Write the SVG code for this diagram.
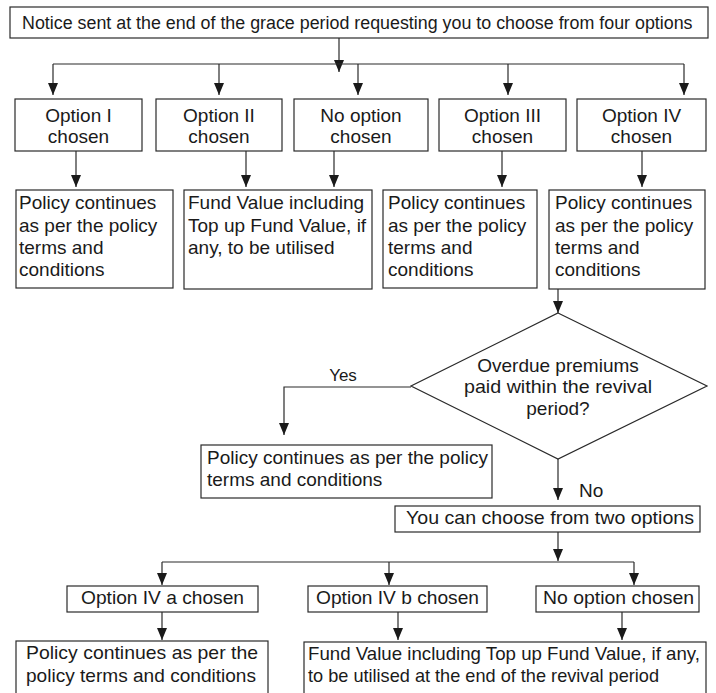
<svg xmlns="http://www.w3.org/2000/svg" width="716" height="693" viewBox="0 0 716 693">
<defs>
<style>
.box{fill:#fff;stroke:#2a2a2a;stroke-width:1.2}
.ln{fill:none;stroke:#2a2a2a;stroke-width:1.2}
.ar{fill:none;stroke:#2a2a2a;stroke-width:1.2;marker-end:url(#ah)}
text{font-family:"Liberation Sans",Arial,Helvetica,sans-serif;font-size:19px;fill:#1a1a1a}
.c{text-anchor:middle}
</style>
<marker id="ah" viewBox="0 0 12 10" refX="12" refY="5" markerWidth="12" markerHeight="10" markerUnits="userSpaceOnUse" orient="auto">
<path d="M0,0 L12,5 L0,10 z" fill="#1a1a1a"/>
</marker>
</defs>
<rect width="716" height="693" fill="#fff"/>

<g id="connectors">
<line class="ar" x1="339" y1="38" x2="339" y2="72"/>
<line class="ln" x1="53" y1="64" x2="684" y2="64"/>
<line class="ar" x1="53" y1="64" x2="53" y2="95"/>
<line class="ar" x1="219" y1="64" x2="219" y2="95"/>
<line class="ar" x1="358" y1="64" x2="358" y2="95"/>
<line class="ar" x1="508" y1="64" x2="508" y2="95"/>
<line class="ar" x1="684" y1="64" x2="684" y2="95"/>
<line class="ar" x1="76" y1="151" x2="76" y2="187"/>
<line class="ar" x1="246" y1="151" x2="246" y2="187"/>
<line class="ar" x1="334" y1="151" x2="334" y2="187"/>
<line class="ar" x1="502" y1="151" x2="502" y2="187"/>
<line class="ar" x1="642" y1="151" x2="642" y2="187"/>
<line class="ar" x1="558" y1="289" x2="558" y2="313"/>
<polyline class="ar" points="411,387 284,387 284,435"/>
<line class="ar" x1="558" y1="459" x2="558" y2="500"/>
<line class="ar" x1="558" y1="532" x2="558" y2="561"/>
<line class="ln" x1="162" y1="562" x2="634" y2="562"/>
<line class="ar" x1="162" y1="562" x2="162" y2="585"/>
<line class="ar" x1="389" y1="562" x2="389" y2="585"/>
<line class="ar" x1="634" y1="562" x2="634" y2="585"/>
<line class="ar" x1="162" y1="612" x2="162" y2="640"/>
<line class="ar" x1="398" y1="612" x2="398" y2="640"/>
<line class="ar" x1="622" y1="612" x2="622" y2="640"/>
<text class="c" x="343" y="381" style="font-size:17px">Yes</text>
<text x="579" y="497">No</text>
</g>

<g id="notice">
<rect class="box" x="10" y="7" width="698" height="31"/>
<text transform="translate(22,29) scale(0.94,1)" x="0" y="0">Notice sent at the end of the grace period requesting you to choose from four options</text>
</g>

<g id="opt1">
<rect class="box" x="15" y="99" width="127" height="52"/>
<text class="c" x="78.5" y="122">Option I</text>
<text class="c" x="78.5" y="143">chosen</text>
</g>
<g id="opt2">
<rect class="box" x="156" y="99" width="126" height="52"/>
<text class="c" x="219" y="122">Option II</text>
<text class="c" x="219" y="143">chosen</text>
</g>
<g id="optnone">
<rect class="box" x="294" y="99" width="134" height="52"/>
<text class="c" x="361" y="122">No option</text>
<text class="c" x="361" y="143">chosen</text>
</g>
<g id="opt3">
<rect class="box" x="439" y="99" width="127" height="52"/>
<text class="c" x="502.5" y="122">Option III</text>
<text class="c" x="502.5" y="143">chosen</text>
</g>
<g id="opt4">
<rect class="box" x="577" y="99" width="129" height="52"/>
<text class="c" x="641.5" y="122">Option IV</text>
<text class="c" x="641.5" y="143">chosen</text>
</g>

<g id="res1">
<rect class="box" x="16" y="190" width="157" height="98"/>
<text x="19" y="209">Policy continues</text>
<text x="19" y="232">as per the policy</text>
<text x="19" y="254">terms and</text>
<text x="19" y="276">conditions</text>
</g>
<g id="res2">
<rect class="box" x="184" y="190" width="188" height="99"/>
<text x="188" y="209">Fund Value including</text>
<text x="188" y="232">Top up Fund Value, if</text>
<text x="188" y="254">any, to be utilised</text>
</g>
<g id="res3">
<rect class="box" x="383" y="190" width="154" height="98"/>
<text x="388" y="209">Policy continues</text>
<text x="388" y="232">as per the policy</text>
<text x="388" y="254">terms and</text>
<text x="388" y="276">conditions</text>
</g>
<g id="res4">
<rect class="box" x="549" y="190" width="156" height="99"/>
<text x="555" y="209">Policy continues</text>
<text x="555" y="232">as per the policy</text>
<text x="555" y="254">terms and</text>
<text x="555" y="276">conditions</text>
</g>

<g id="decision">
<polygon class="box" points="558,313 707,386 558,459 411,386"/>
<text class="c" x="558" y="372">Overdue premiums</text>
<text class="c" x="558" y="393" textLength="188" lengthAdjust="spacingAndGlyphs">paid within the revival</text>
<text class="c" x="558" y="415">period?</text>
</g>

<g id="yesres">
<rect class="box" x="201" y="445" width="291" height="53"/>
<text x="207" y="464">Policy continues as per the policy</text>
<text x="207" y="486">terms and conditions</text>
</g>

<g id="twoopts">
<rect class="box" x="395" y="506" width="305" height="26"/>
<text x="406" y="524" textLength="288" lengthAdjust="spacingAndGlyphs">You can choose from two options</text>
</g>

<g id="opt4a">
<rect class="box" x="67" y="586" width="191" height="26"/>
<text x="81" y="604" textLength="163" lengthAdjust="spacingAndGlyphs">Option IV a chosen</text>
</g>
<g id="opt4b">
<rect class="box" x="308" y="586" width="179" height="26"/>
<text x="316" y="604" textLength="163" lengthAdjust="spacingAndGlyphs">Option IV b chosen</text>
</g>
<g id="opt4none">
<rect class="box" x="536" y="586" width="163" height="26"/>
<text x="543" y="604" textLength="151" lengthAdjust="spacingAndGlyphs">No option chosen</text>
</g>

<g id="res4a">
<rect class="box" x="16" y="641" width="252" height="60"/>
<text x="26" y="659" textLength="232" lengthAdjust="spacingAndGlyphs">Policy continues as per the</text>
<text x="26" y="682" textLength="230" lengthAdjust="spacingAndGlyphs">policy terms and conditions</text>
</g>
<g id="res4b">
<rect class="box" x="304" y="642" width="402" height="60"/>
<text x="308" y="660" textLength="392" lengthAdjust="spacingAndGlyphs">Fund Value including Top up Fund Value, if any,</text>
<text x="308" y="682" textLength="351" lengthAdjust="spacingAndGlyphs">to be utilised at the end of the revival period</text>
</g>
</svg>
